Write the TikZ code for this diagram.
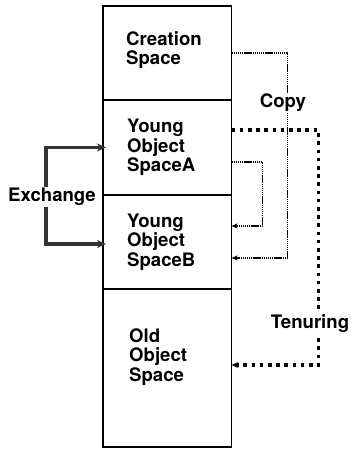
\documentclass[tikz,border=0pt]{standalone}
\usepackage{fontspec}
\setsansfont{TeX Gyre Heros}
\usepackage{tikz}
\usetikzlibrary{arrows.meta,positioning}

\begin{document}
\begin{tikzpicture}[
    x=1pt,y=-1pt,
    font=\sffamily\bfseries\fontsize{18.6}{19.5}\selectfont,
    space/.style={draw,line width=1.6pt,minimum width=128.5pt,outer sep=0pt,inner sep=0pt},
    lbl/.style={align=left,anchor=west,inner sep=0pt},
    tag/.style={fill=white,inner sep=1.5pt},
    copyline/.style={line width=1.7pt,dash pattern=on 1.4pt off 0.7pt,
      -{Stealth[length=6pt,width=5pt]}},
    tenure/.style={line width=3.2pt,dash pattern=on 3.6pt off 4.6pt,
      -{Stealth[length=7pt,width=6pt]}},
    exch/.style={line width=3.2pt,draw=black!80,shorten >=-3pt,
      -{Stealth[length=9pt,width=8pt]}}
]
\useasboundingbox (0,0) rectangle (351,449);
% memory column
\node[space,minimum height=94pt] (creation) at (167.25,53) {};
\node[space,minimum height=95pt,below=0pt of creation] (younga) {};
\node[space,minimum height=94pt,below=0pt of younga] (youngb) {};
\node[space,minimum height=158pt,below=0pt of youngb] (old) {};
\node[lbl] (creationtxt) at ([xshift=23pt,yshift=3pt]creation.west) {Creation\\Space};
\node[lbl] (youngatxt) at ([xshift=24pt]younga.west) {Young\\Object\\SpaceA};
\node[lbl] (youngbtxt) at ([xshift=24pt]youngb.west) {Young\\Object\\SpaceB};
\node[lbl] (oldtxt) at ([xshift=26pt,yshift=11pt]old.west) {Old\\Object\\Space};
% copy
\draw[copyline] (creation.east) -- ++(56,0) |- ([yshift=-16pt]youngb.east);
\draw[copyline] ([yshift=-14.5pt]younga.east) -- ++(31,0) |- ([yshift=16pt]youngb.east);
\node[tag] (copylbl) at (283,103) {Copy};
% tenuring
\draw[tenure] ([yshift=17.5pt]younga.east) -- ++(87,0) |- ([yshift=3pt]old.east);
\node[tag] (tenurelbl) at (310,324) {Tenuring};
% exchange
\node[inner sep=1pt] (exchange) at (52,197) {Exchange};
\coordinate (xbar) at (46,197);
\draw[exch] (xbar |- exchange.north) |- (younga.west);
\draw[exch] (xbar |- exchange.south) |- ([yshift=-2pt]youngb.west);
\end{tikzpicture}
\end{document}
